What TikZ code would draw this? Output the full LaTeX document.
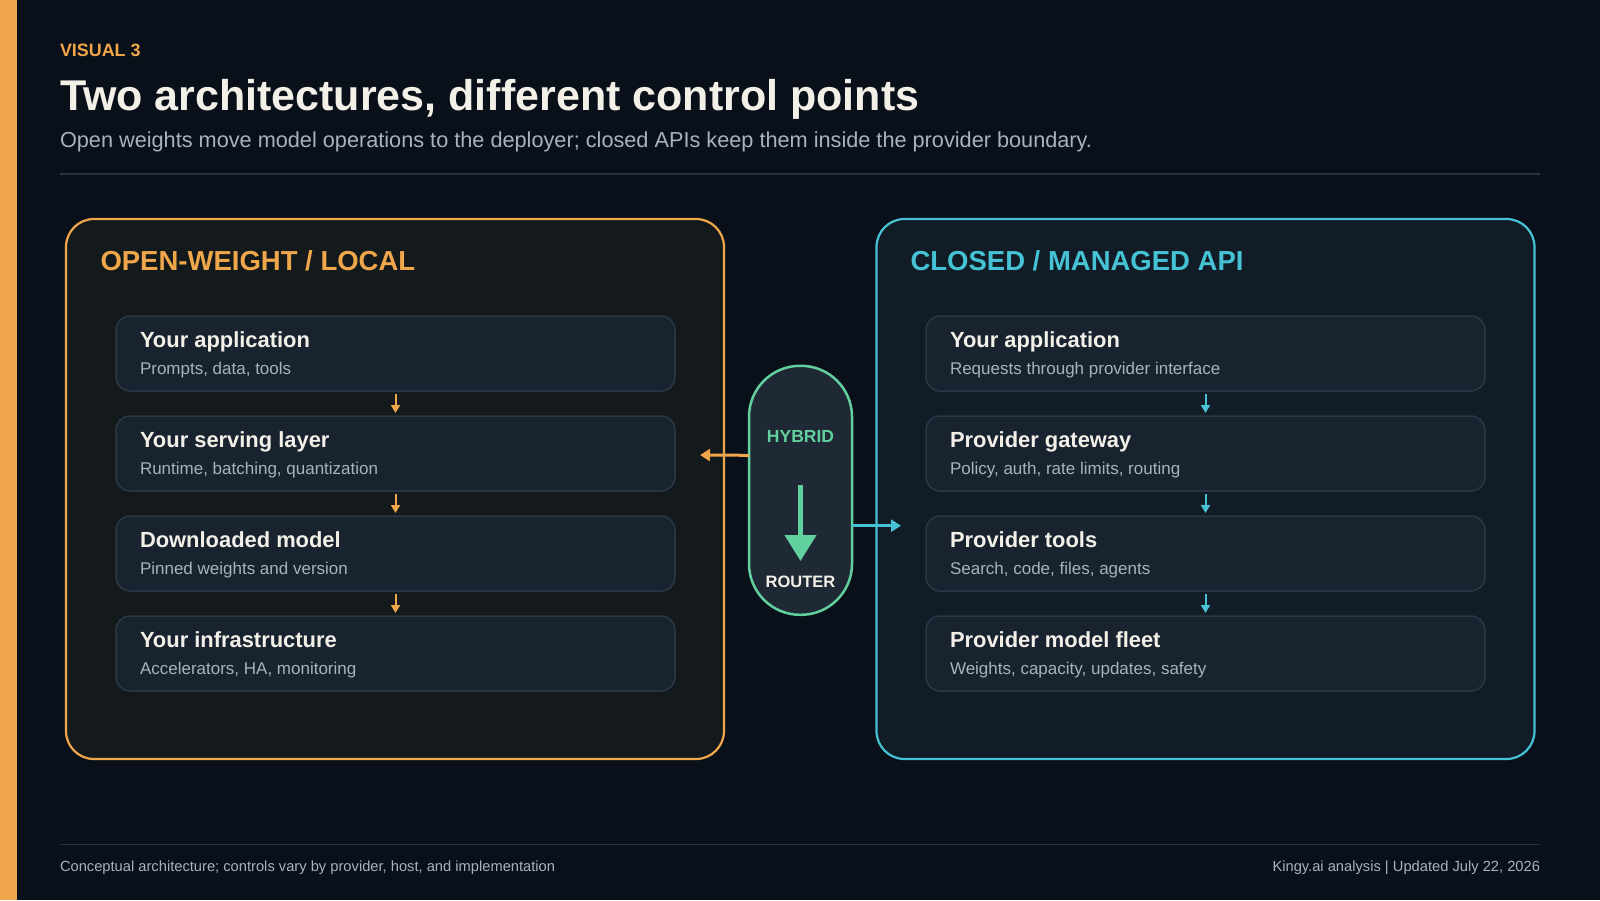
\documentclass[tikz,border=0pt]{standalone}
\usepackage{fontspec}
\setmainfont{Liberation Sans}
\usetikzlibrary{arrows.meta}
\definecolor{bg}{HTML}{0A1019}
\definecolor{orng}{HTML}{F0A64A}
\definecolor{cyn}{HTML}{46C2D5}
\definecolor{grn}{HTML}{62D09E}
\definecolor{lpfill}{HTML}{141A1C}
\definecolor{rpfill}{HTML}{111C26}
\definecolor{boxfill}{HTML}{19232F}
\definecolor{boxline}{HTML}{2A3747}
\definecolor{titlec}{HTML}{F3F0E8}
\definecolor{subc}{HTML}{A8B2BE}
\definecolor{rulec}{HTML}{29333F}
\definecolor{capfill}{HTML}{1F2935}
\newcommand{\archbox}[5]{%
  \node[boxst] (#1) at (#2,#3) {};
  \node[btitle] (#1t) at ([xshift=24pt,yshift=-31.7pt]#1.north west) {#4};
  \node[bsub] (#1s) at ([xshift=24pt,yshift=-58pt]#1.north west) {#5};
}
\begin{document}
\begin{tikzpicture}[x=1pt,y=-1pt,
  txt/.style={anchor=base west, inner sep=0pt, outer sep=0pt},
  panelst/.style={line width=2.2pt, rounded corners=28pt, anchor=north west,
    minimum width=658pt, minimum height=540pt, inner sep=0pt, outer sep=0pt},
  boxst/.style={draw=boxline, fill=boxfill, line width=1.5pt, rounded corners=14pt,
    anchor=north west, minimum width=559pt, minimum height=75pt, inner sep=0pt, outer sep=0pt},
  btitle/.style={txt, text=titlec, font=\fontsize{21.9}{24}\selectfont\bfseries},
  bsub/.style={txt, text=subc, font=\fontsize{17}{20}\selectfont},
  ptitle/.style={txt, font=\fontsize{27.5}{30}\selectfont\bfseries},
  flow/.style={line width=2pt, shorten <=3pt, shorten >=3pt, -{Triangle[length=8pt,width=9pt]}},
  side/.style={line width=3pt, -{Triangle[length=10pt,width=12pt]}},
]
\useasboundingbox (0,0) rectangle (1600,900);
\fill[bg] (0,0) rectangle (1600,900);
\fill[orng] (0,0) rectangle (17,900);

% header
\node[txt, text=orng, font=\fontsize{17.9}{20}\selectfont\bfseries] (kicker) at (60,56.5) {VISUAL 3};
\node[txt, text=titlec, font=\fontsize{43}{48}\selectfont\bfseries] (title) at (60,110.7) {Two architectures, different control points};
\node[txt, text=subc, font=\fontsize{21.7}{24}\selectfont] (subtitle) at (60,147.7) {Open weights move model operations to the deployer; closed APIs keep them inside the provider boundary.};
\draw[rulec, line width=1.5pt] (60,174) -- (1540,174);

% panels
\node[panelst, draw=orng, fill=lpfill] (lp) at (66,219) {};
\node[panelst, draw=cyn, fill=rpfill] (rp) at (876.5,219) {};
\node[ptitle, text=orng] (lpt) at (100.5,270) {OPEN-WEIGHT / LOCAL};
\node[ptitle, text=cyn] (rpt) at (910.5,270) {CLOSED / MANAGED API};

% left stack
\archbox{l1}{116}{316}{Your application}{Prompts, data, tools}
\archbox{l2}{116}{416}{Your serving layer}{Runtime, batching, quantization}
\archbox{l3}{116}{516}{Downloaded model}{Pinned weights and version}
\archbox{l4}{116}{616}{Your infrastructure}{Accelerators, HA, monitoring}
% right stack
\archbox{r1}{926}{316}{Your application}{Requests through provider interface}
\archbox{r2}{926}{416}{Provider gateway}{Policy, auth, rate limits, routing}
\archbox{r3}{926}{516}{Provider tools}{Search, code, files, agents}
\archbox{r4}{926}{616}{Provider model fleet}{Weights, capacity, updates, safety}

\draw[flow, orng] (l1) -- (l2);
\draw[flow, orng] (l2) -- (l3);
\draw[flow, orng] (l3) -- (l4);
\draw[flow, cyn] (r1) -- (r2);
\draw[flow, cyn] (r2) -- (r3);
\draw[flow, cyn] (r3) -- (r4);

% hybrid router
\node[draw=grn, fill=capfill, line width=2.5pt, rounded corners=51pt,
  minimum width=103pt, minimum height=249pt, inner sep=0pt, outer sep=0pt] (router) at (800.5,490.3) {};
\node[txt, anchor=base, text=grn, font=\fontsize{17.5}{20}\selectfont\bfseries] (hyb) at (800.5,442.3) {HYBRID};
\node[txt, anchor=base, text=titlec, font=\fontsize{16.5}{20}\selectfont\bfseries] (rout) at (800.5,587.3) {ROUTER};
\coordinate (dstart) at (800.5,485);
\coordinate (dend) at (800.5,561);
\draw[grn, line width=4.5pt, -{Triangle[length=26pt,width=31pt]}] (dstart) -- (dend);

\coordinate (otip) at (700,455);
\coordinate (ctip) at (901,525.7);
\draw[side, orng] ([yshift=35pt]router.west) -- (otip);
\draw[side, cyn] ([yshift=-35.4pt]router.east) -- (ctip);

% footer
\draw[rulec, line width=1.5pt] (60,844.3) -- (1540,844.3);
\node[txt, text=subc, font=\fontsize{14.7}{17}\selectfont] (fl) at (60,871) {Conceptual architecture; controls vary by provider, host, and implementation};
\node[txt, anchor=base east, text=subc, font=\fontsize{14.7}{17}\selectfont] (fr) at (1540,871) {Kingy.ai analysis | Updated July 22, 2026};
\end{tikzpicture}
\end{document}
